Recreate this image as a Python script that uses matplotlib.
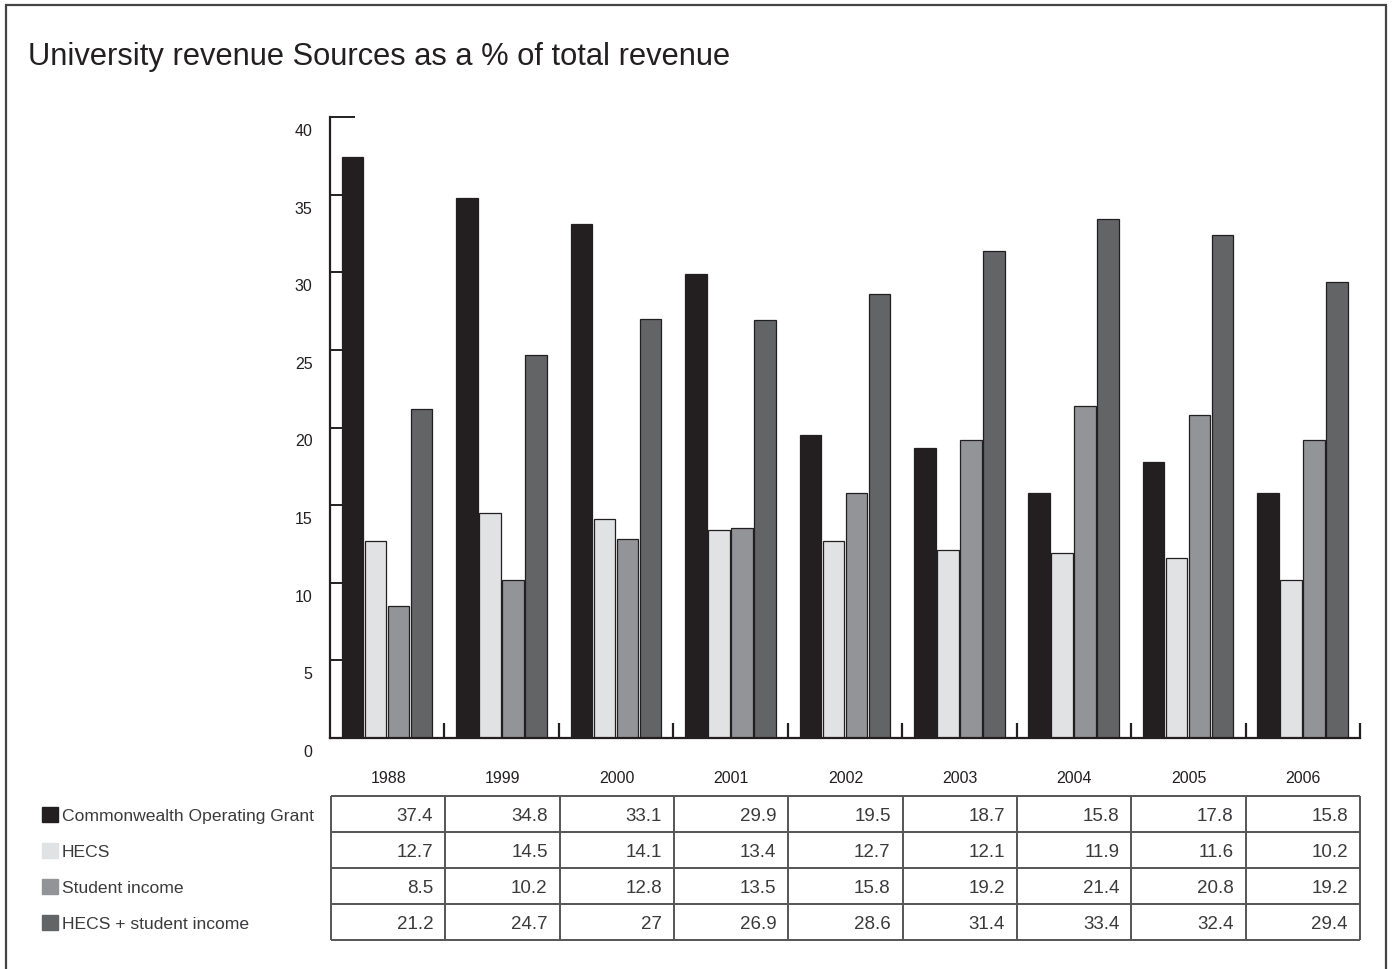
import matplotlib
matplotlib.use("Agg")
import matplotlib.pyplot as plt
import matplotlib.transforms as mtransforms
from matplotlib.patches import Rectangle

years = ["1988", "1999", "2000", "2001", "2002", "2003", "2004", "2005", "2006"]
series_names = ["Commonwealth Operating Grant", "HECS", "Student income",
                "HECS + student income"]
grant = [37.4, 34.8, 33.1, 29.9, 19.5, 18.7, 15.8, 17.8, 15.8]
hecs = [12.7, 14.5, 14.1, 13.4, 12.7, 12.1, 11.9, 11.6, 10.2]
student = [8.5, 10.2, 12.8, 13.5, 15.8, 19.2, 21.4, 20.8, 19.2]
hecs_student = [21.2, 24.7, 27, 26.9, 28.6, 31.4, 33.4, 32.4, 29.4]
y_ticks = [0, 5, 10, 15, 20, 25, 30, 35, 40]

series = [grant, hecs, student, hecs_student]
colors = ["#231f20", "#e1e2e4", "#929497", "#636466"]
ink = "#231f20"

plt.rcParams["font.family"] = "Liberation Sans"

W, H = 1395, 970
fig = plt.figure(figsize=(W / 100, H / 100), dpi=100)


def box(x0, y0, x1, y1):
    # pixel box (top-left origin) -> figure fraction rect
    return [x0 / W, 1 - y1 / H, (x1 - x0) / W, (y1 - y0) / H]


# bar chart
ax = fig.add_axes(box(330, 118, 1360, 739))
for k, vals in enumerate(series):
    xs = [i + 0.197 + 0.201 * k for i in range(len(years))]
    ax.bar(xs, vals, width=0.188, color=colors[k], edgecolor=ink, linewidth=0.9)

ax.set_xlim(0, len(years))
ax.set_ylim(0, 40)
for s in ["top", "right"]:
    ax.spines[s].set_visible(False)
for s in ["left", "bottom"]:
    ax.spines[s].set_linewidth(1.6)
    ax.spines[s].set_color(ink)

ax.set_yticks(y_ticks)
ax.set_yticklabels([str(t) for t in y_ticks])
ax.tick_params(axis="y", direction="in", length=8.6, width=1.4, color=ink,
               pad=12.5, labelsize=11.5, labelcolor=ink)
ax.yaxis.get_major_ticks()[-1].tick1line.set_markersize(18)
shift = mtransforms.ScaledTranslation(0, -12 / 100, fig.dpi_scale_trans)
for lab in ax.get_yticklabels():
    lab.set_transform(lab.get_transform() + shift)

ax.set_xticks(range(1, len(years) + 1))
ax.set_xticklabels([])
ax.tick_params(axis="x", direction="in", length=11, width=1.6, color=ink)

# data table
tx = fig.add_axes(box(331, 797, 1360, 941))
tx.set_xlim(0, len(years))
tx.set_ylim(len(series), 0)
tx.axis("off")
tx.hlines(range(len(series) + 1), 0, len(years), color="#555557", lw=1.4,
          clip_on=False)
tx.vlines(range(len(years) + 1), 0, len(series), color="#555557", lw=1.4,
          clip_on=False)

for j, yr in enumerate(years):
    tx.text(j + 0.5, -0.52, yr, ha="center", va="center", fontsize=11.5,
            color=ink)
    for i, vals in enumerate(series):
        tx.text(j + 0.895, i + 0.55, f"{vals[j]:g}", ha="right", va="center",
                fontsize=13.5, color="#3a3a3c")

blend = mtransforms.blended_transform_factory(fig.transFigure, tx.transData)
for i, name in enumerate(series_names):
    tx.add_patch(Rectangle((42 / W, i + 0.52 - 0.21), 16 / W, 0.42,
                           transform=blend, color=colors[i], clip_on=False))
    tx.text(62 / W, i + 0.55, name, transform=blend, ha="left", va="center",
            fontsize=12.6, color="#3a3a3c")

fig.text(28 / W, 1 - 57 / H, "University revenue Sources as a % of total revenue",
         ha="left", va="center", fontsize=22.2, color=ink)

# outer frame (open at the bottom, as in the original)
fig.add_artist(Rectangle((6 / W, -0.02), (1386 - 6) / W, (H - 6) / H + 0.02,
                         transform=fig.transFigure, fill=False, lw=1.6,
                         ec="#444446"))

fig.savefig("out.png", dpi=100)
